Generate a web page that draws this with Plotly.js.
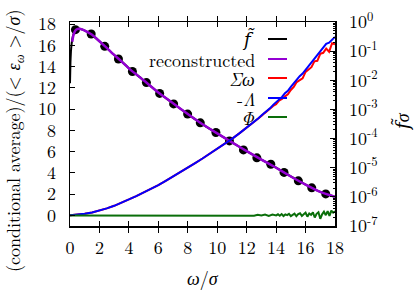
<!DOCTYPE html>
<html><head><meta charset="utf-8">
<script src="https://cdn.plot.ly/plotly-3.0.1.min.js"></script>
<style>html,body{margin:0;padding:0;background:#fff}#plot{width:415px;height:294px}</style>
</head><body><div id="plot"></div>
<script>
// ---- data ----
// f-tilde (black line), log10 values on the right (log) axis
const fOmega = [0, 0.03, 0.08, 0.15, 0.25, 0.4, 0.6, 0.9, 1.2, 1.5, 2, 2.5, 3, 3.5, 4, 5, 6, 7, 8, 9, 10, 11, 12, 13, 14, 15, 16, 17, 18];
const fLog10 = [-2.1, -1.4, -0.9, -0.6, -0.4, -0.27, -0.23, -0.27, -0.35, -0.44, -0.66, -0.89, -1.13, -1.35, -1.59, -2.0, -2.42, -2.79, -3.16, -3.51, -3.82, -4.13, -4.43, -4.72, -5.0, -5.30, -5.58, -5.83, -6.0];
// reconstructed (purple)
const recOmega = [0.15, 0.25, 0.4, 0.6, 0.9, 1.2, 1.5, 2, 2.5, 3, 3.5, 4, 5, 6, 7, 8, 9, 10, 11, 12, 13, 14, 15, 16, 17, 18];
const recLog10 = [-0.68, -0.42, -0.27, -0.23, -0.27, -0.35, -0.44, -0.66, -0.89, -1.13, -1.35, -1.59, -2.0, -2.42, -2.79, -3.16, -3.51, -3.82, -4.13, -4.43, -4.72, -5.0, -5.30, -5.58, -5.83, -6.0];
// sample points (black dots)
const dotOmega = [0.37, 1.44, 2.36, 3.29, 4.24, 5.19, 6.09, 7.04, 7.99, 8.85, 9.91, 10.83, 11.78, 12.69, 13.64, 14.54, 15.51, 16.42, 17.37];
const dotLog10 = [-0.264, -0.41, -0.834, -1.27, -1.70, -2.08, -2.45, -2.81, -3.16, -3.46, -3.79, -4.08, -4.39, -4.66, -4.88, -5.16, -5.45, -5.69, -5.90];
// Sigma*omega (red) and -Lambda (blue), left axis
const lamOmega = [0,0.5,1,1.5,2,2.5,3,3.5,4,4.5,5,5.5,6,6.5,7,7.5,8,8.5,9,9.5,10,10.5,11,11.5,12,
  12.2,12.4,12.6,12.8,13,13.2,13.4,13.6,13.8,14,14.2,14.4,14.6,14.8,15,15.2,15.4,15.6,15.8,16,16.2,16.4,16.6,16.8,17,17.2,17.4,17.6,17.8,18];
const minusLambda = [0,0.04,0.15,0.28,0.45,0.66,0.9,1.18,1.5,1.82,2.15,2.5,2.85,3.25,3.65,4.07,4.5,4.92,5.35,5.8,6.25,6.72,7.2,7.72,8.25,
  8.47,8.68,8.92,9.14,9.40,9.62,9.90,10.1,10.40,10.62,10.92,11.15,11.5,11.72,12.1,12.45,12.7,13.1,13.35,13.7,14.1,14.4,14.8,15.05,15.5,15.85,16.15,16.25,16.55,16.8];
const sigmaOmega = [0,0.04,0.15,0.28,0.45,0.66,0.9,1.18,1.5,1.82,2.15,2.5,2.85,3.25,3.65,4.07,4.5,4.92,5.35,5.8,6.25,6.72,7.2,7.72,8.25,
  8.45,8.66,8.9,9.1,9.35,9.6,9.8,10.05,10.3,10.45,10.8,10.95,11.2,11.4,11.8,12.1,12.55,12.7,12.9,13.5,13.7,13.95,14.5,14.55,15.2,15.3,15.7,15.4,16.2,16.1];
// Phi (green), left axis
const phiOmega = [0, 4, 8, 10, 11, 11.5, 12, 12.25, 12.5, 12.75, 13, 13.25, 13.5, 13.75,
  14, 14.125, 14.25, 14.375, 14.5, 14.625, 14.75, 14.875, 15, 15.125, 15.25, 15.375, 15.5, 15.625, 15.75, 15.875,
  16, 16.125, 16.25, 16.375, 16.5, 16.625, 16.75, 16.875, 17, 17.125, 17.25, 17.375, 17.5, 17.625, 17.75, 17.875, 18];
const phiVals = [0, 0, 0, 0.01, -0.01, 0.02, -0.02, 0.04, -0.03, 0.06, -0.02, 0.07, -0.05, 0.07,
  0.0, 0.1, -0.04, 0.12, -0.06, 0.09, 0.02, 0.14, -0.07, 0.05, 0.16, -0.08, 0.12, 0.2, -0.05, 0.1,
  0.25, -0.12, 0.18, 0.05, 0.28, -0.2, 0.15, 0.3, -0.32, 0.1, 0.35, 0.02, 0.4, -0.05, 0.45, 0.25, 0.38];
// axis ticks
const xTicks = [0,2,4,6,8,10,12,14,16,18];
const yLeftTicks = [0,2,4,6,8,10,12,14,16,18];
const yRightExp = [-7,-6,-5,-4,-3,-2,-1,0];

const pow10 = a => a.map(v => Math.pow(10, v));
const FONT = 'Latin Modern Roman';
const FS = 18;
const FTILDE = '<span style="font-family:DejaVu Serif"><i>f̃</i></span>';

const traces = [
  {x: fOmega, y: pow10(fLog10), yaxis: 'y', mode: 'lines', line: {color: '#000000', width: 2, shape: 'spline', smoothing: 0.5}},
  {x: dotOmega, y: pow10(dotLog10), yaxis: 'y', mode: 'markers', marker: {color: '#000000', size: 9}},
  {x: recOmega, y: pow10(recLog10), yaxis: 'y', mode: 'lines', line: {color: '#9400d3', width: 2.5, shape: 'spline', smoothing: 0.5}},
  {x: lamOmega, y: sigmaOmega, yaxis: 'y2', mode: 'lines', line: {color: '#ff0000', width: 2}},
  {x: lamOmega, y: minusLambda, yaxis: 'y2', mode: 'lines', line: {color: '#0000ff', width: 2}},
  {x: phiOmega, y: phiVals, yaxis: 'y2', mode: 'lines', line: {color: '#0a6e0a', width: 2}}
];

const minorVals = [];
for (let d = -7; d < 0; d++) for (let k = 2; k <= 9; k++) minorVals.push(k * Math.pow(10, d));

const ML = 70, MR = 80, MT = 22, MB = 68, PW = 415, PH = 294;
const pw = PW - ML - MR, ph = PH - MT - MB;
const px = x => (x - ML) / pw;
const py = y => (PH - MB - y) / ph;

const legendItems = [
  {text: FTILDE, color: '#000000', y: 39},
  {text: 'reconstructed', color: '#9400d3', y: 59},
  {text: '<i>Σω</i>', color: '#ff0000', y: 78},
  {text: '-<i>Λ</i>', color: '#0000ff', y: 98},
  {text: '<i>Φ</i>', color: '#0a6e0a', y: 117}
];

const annotations = legendItems.map(it => ({
  xref: 'paper', yref: 'paper', x: px(256), y: py(it.y), xanchor: 'right', yanchor: 'middle', borderpad: 0,
  text: it.text, showarrow: false, font: {family: FONT, size: FS, color: '#000000'}
}));
annotations.push({xref: 'paper', yref: 'paper', x: px(14), y: py(141), xanchor: 'center', yanchor: 'middle', textangle: -90,
  text: '(conditional average)/(&lt; <i>ε</i><sub><i>ω</i></sub> &gt;/<i>σ</i>)', showarrow: false,
  font: {family: FONT, size: FS, color: '#000000'}});
annotations.push({xref: 'paper', yref: 'paper', x: px(401), y: py(122), xanchor: 'center', yanchor: 'middle', textangle: -90,
  text: FTILDE + '<i>σ</i>', showarrow: false, font: {family: FONT, size: FS, color: '#000000'}});
annotations.push({xref: 'paper', yref: 'paper', x: 0.5, y: py(277), xanchor: 'center', yanchor: 'middle',
  text: '<i>ω</i>/<i>σ</i>', showarrow: false, font: {family: FONT, size: FS, color: '#000000'}});

const shapes = legendItems.map(it => ({
  type: 'line', xref: 'paper', yref: 'paper', x0: px(268), x1: px(287), y0: py(it.y), y1: py(it.y),
  line: {color: it.color, width: 2}
}));

function axisBase() {
  return {
    ticks: 'inside', ticklen: 5, tickwidth: 1.2, tickcolor: '#000000',
    showline: true, linewidth: 1.5, linecolor: '#000000', showgrid: false, zeroline: false,
    tickfont: {family: FONT, size: FS, color: '#000000'}
  };
}

const layout = {
  width: PW, height: PH,
  font: {family: FONT, size: FS, color: '#000000'},
  margin: {l: ML, r: MR, t: MT, b: MB, pad: 0},
  paper_bgcolor: '#ffffff', plot_bgcolor: 'rgba(0,0,0,0)',
  showlegend: false, hovermode: false,
  xaxis: Object.assign(axisBase(), {range: [0, 18], tickvals: xTicks, mirror: 'allticks', ticklabelstandoff: 5}),
  yaxis: Object.assign(axisBase(), {
    type: 'log', side: 'right', range: [-7, 0],
    tickvals: pow10(yRightExp), ticktext: yRightExp.map(e => '10<sup>' + e + '</sup>'),
    minor: {ticks: 'inside', ticklen: 2.5, tickwidth: 1, tickcolor: '#000000', tickvals: minorVals},
    ticklabelstandoff: 9
  }),
  yaxis2: Object.assign(axisBase(), {
    overlaying: 'y', side: 'left', range: [-1, 18.2], tickvals: yLeftTicks, mirror: true, ticklabelstandoff: 9
  }),
  annotations: annotations,
  shapes: shapes
};

Plotly.newPlot('plot', traces, layout, {staticPlot: true, displayModeBar: false}).then(gd => {
  gd.querySelectorAll('text').forEach(t => {
    if (getComputedStyle(t).fontFamily.indexOf('Latin Modern') < 0) t.style.fontFamily = '"Latin Modern Roman"';
  });
});
</script></body></html>
